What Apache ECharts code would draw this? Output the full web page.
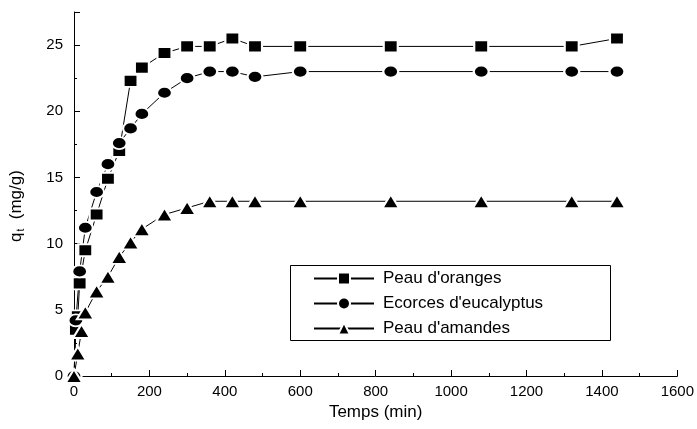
<!DOCTYPE html>
<html>
<head>
<meta charset="utf-8">
<script src="https://cdn.jsdelivr.net/npm/echarts@6/dist/echarts.min.js"></script>
<style>
  html, body { margin: 0; padding: 0; background: #fff; }
  #chart { width: 697px; height: 429px; }
</style>
</head>
<body>
<div id="chart"></div>
<script>
// data (time in min, q_t in mg/g)
var orangeTimes = [0, 5, 10, 15, 30, 60, 90, 120, 150, 180, 240, 300, 360, 420, 480, 600, 840, 1080, 1320, 1440];
var orangeValues = [0, 3.5, 4.5, 7.0, 9.5, 12.2, 14.9, 17.0, 22.3, 23.3, 24.4, 24.9, 24.9, 25.5, 24.9, 24.9, 24.9, 24.9, 24.9, 25.5];

var eucaTimes = [0, 5, 15, 30, 60, 90, 120, 150, 180, 240, 300, 360, 420, 480, 600, 840, 1080, 1320, 1440];
var eucaValues = [0, 4.2, 7.9, 11.2, 13.9, 16.0, 17.6, 18.7, 19.8, 21.4, 22.5, 23.0, 23.0, 22.6, 23.0, 23.0, 23.0, 23.0, 23.0];

var amandeTimes = [0, 10, 20, 30, 60, 90, 120, 150, 180, 240, 300, 360, 420, 480, 600, 840, 1080, 1320, 1440];
var amandeValues = [0, 1.7, 3.4, 4.8, 6.4, 7.5, 9.0, 10.1, 11.1, 12.2, 12.7, 13.2, 13.2, 13.2, 13.2, 13.2, 13.2, 13.2, 13.2];

var seriesNames = ["Peau d'oranges", "Ecorces d'eucalyptus", "Peau d'amandes"];

function pairs(xs, ys) {
    return xs.map(function (x, i) { return [x, ys[i]]; });
}

var font = 'Liberation Sans, Arial, sans-serif';

function mkSeries(name, data, symbol, size) {
    return {
        name: name,
        type: 'line',
        data: data,
        symbol: symbol,
        symbolSize: size,
        showAllSymbol: true,
        lineStyle: { color: '#000', width: 1 },
        itemStyle: { color: '#000', borderColor: '#fff', borderWidth: 2 },
        emphasis: { disabled: true },
        animation: false
    };
}

var myChart = echarts.init(document.getElementById('chart'));

option = {
    backgroundColor: '#fff',
    animation: false,
    grid: { left: 72, right: 19, top: 12, bottom: 53 },
    graphic: [{
        type: 'rect',
        left: 290, top: 265,
        shape: { width: 320, height: 75 },
        style: { fill: '#fff', stroke: '#000', lineWidth: 1 },
        z: 5
    }],
    legend: {
        orient: 'vertical',
        left: 308, top: 265,
        itemWidth: 60,
        itemHeight: 15,
        itemGap: 8,
        z: 10,
        textStyle: { fontFamily: font, fontSize: 17, color: '#000', padding: [0, 0, 0, 4] },
        data: seriesNames
    },
    xAxis: {
        type: 'value',
        min: 0, max: 1600, interval: 200,
        name: 'Temps (min)',
        nameLocation: 'middle',
        nameGap: 27,
        nameTextStyle: { fontFamily: font, fontSize: 17, color: '#000' },
        axisLine: { lineStyle: { color: '#000', width: 1 } },
        axisTick: { inside: true, length: 6, lineStyle: { color: '#000' } },
        minorTick: { show: true, splitNumber: 2, length: 3, lineStyle: { color: '#000' } },
        axisLabel: {
            fontFamily: font, fontSize: 15, color: '#000', margin: 8,
            formatter: function (v) { return String(v); }
        },
        splitLine: { show: false }
    },
    yAxis: {
        type: 'value',
        min: 0, max: 27.5, interval: 5,
        name: '{q|q}{t|t}{q|  (mg/g)}',
        nameLocation: 'middle',
        nameGap: 48,
        nameTextStyle: {
            fontFamily: font, fontSize: 17, color: '#000',
            padding: [0, 24, 0, 0],
            rich: {
                q: { fontFamily: font, fontSize: 17, color: '#000' },
                t: { fontFamily: font, fontSize: 10, color: '#000', verticalAlign: 'bottom', padding: [9, 0, 0, 1] }
            }
        },
        axisLine: { lineStyle: { color: '#000', width: 1 } },
        axisTick: { inside: true, length: 6, lineStyle: { color: '#000' } },
        minorTick: { show: true, splitNumber: 2, length: 3, lineStyle: { color: '#000' } },
        axisLabel: {
            fontFamily: font, fontSize: 15, color: '#000', margin: 11, showMaxLabel: false,
            formatter: function (v) { return String(v); }
        },
        splitLine: { show: false }
    },
    series: [
        mkSeries(seriesNames[0], pairs(orangeTimes, orangeValues), 'rect', [14, 12]),
        mkSeries(seriesNames[1], pairs(eucaTimes, eucaValues), 'circle', [15, 12]),
        mkSeries(seriesNames[2], pairs(amandeTimes, amandeValues), 'triangle', [17, 14])
    ]
};

myChart.setOption(option);
</script>
</body>
</html>
